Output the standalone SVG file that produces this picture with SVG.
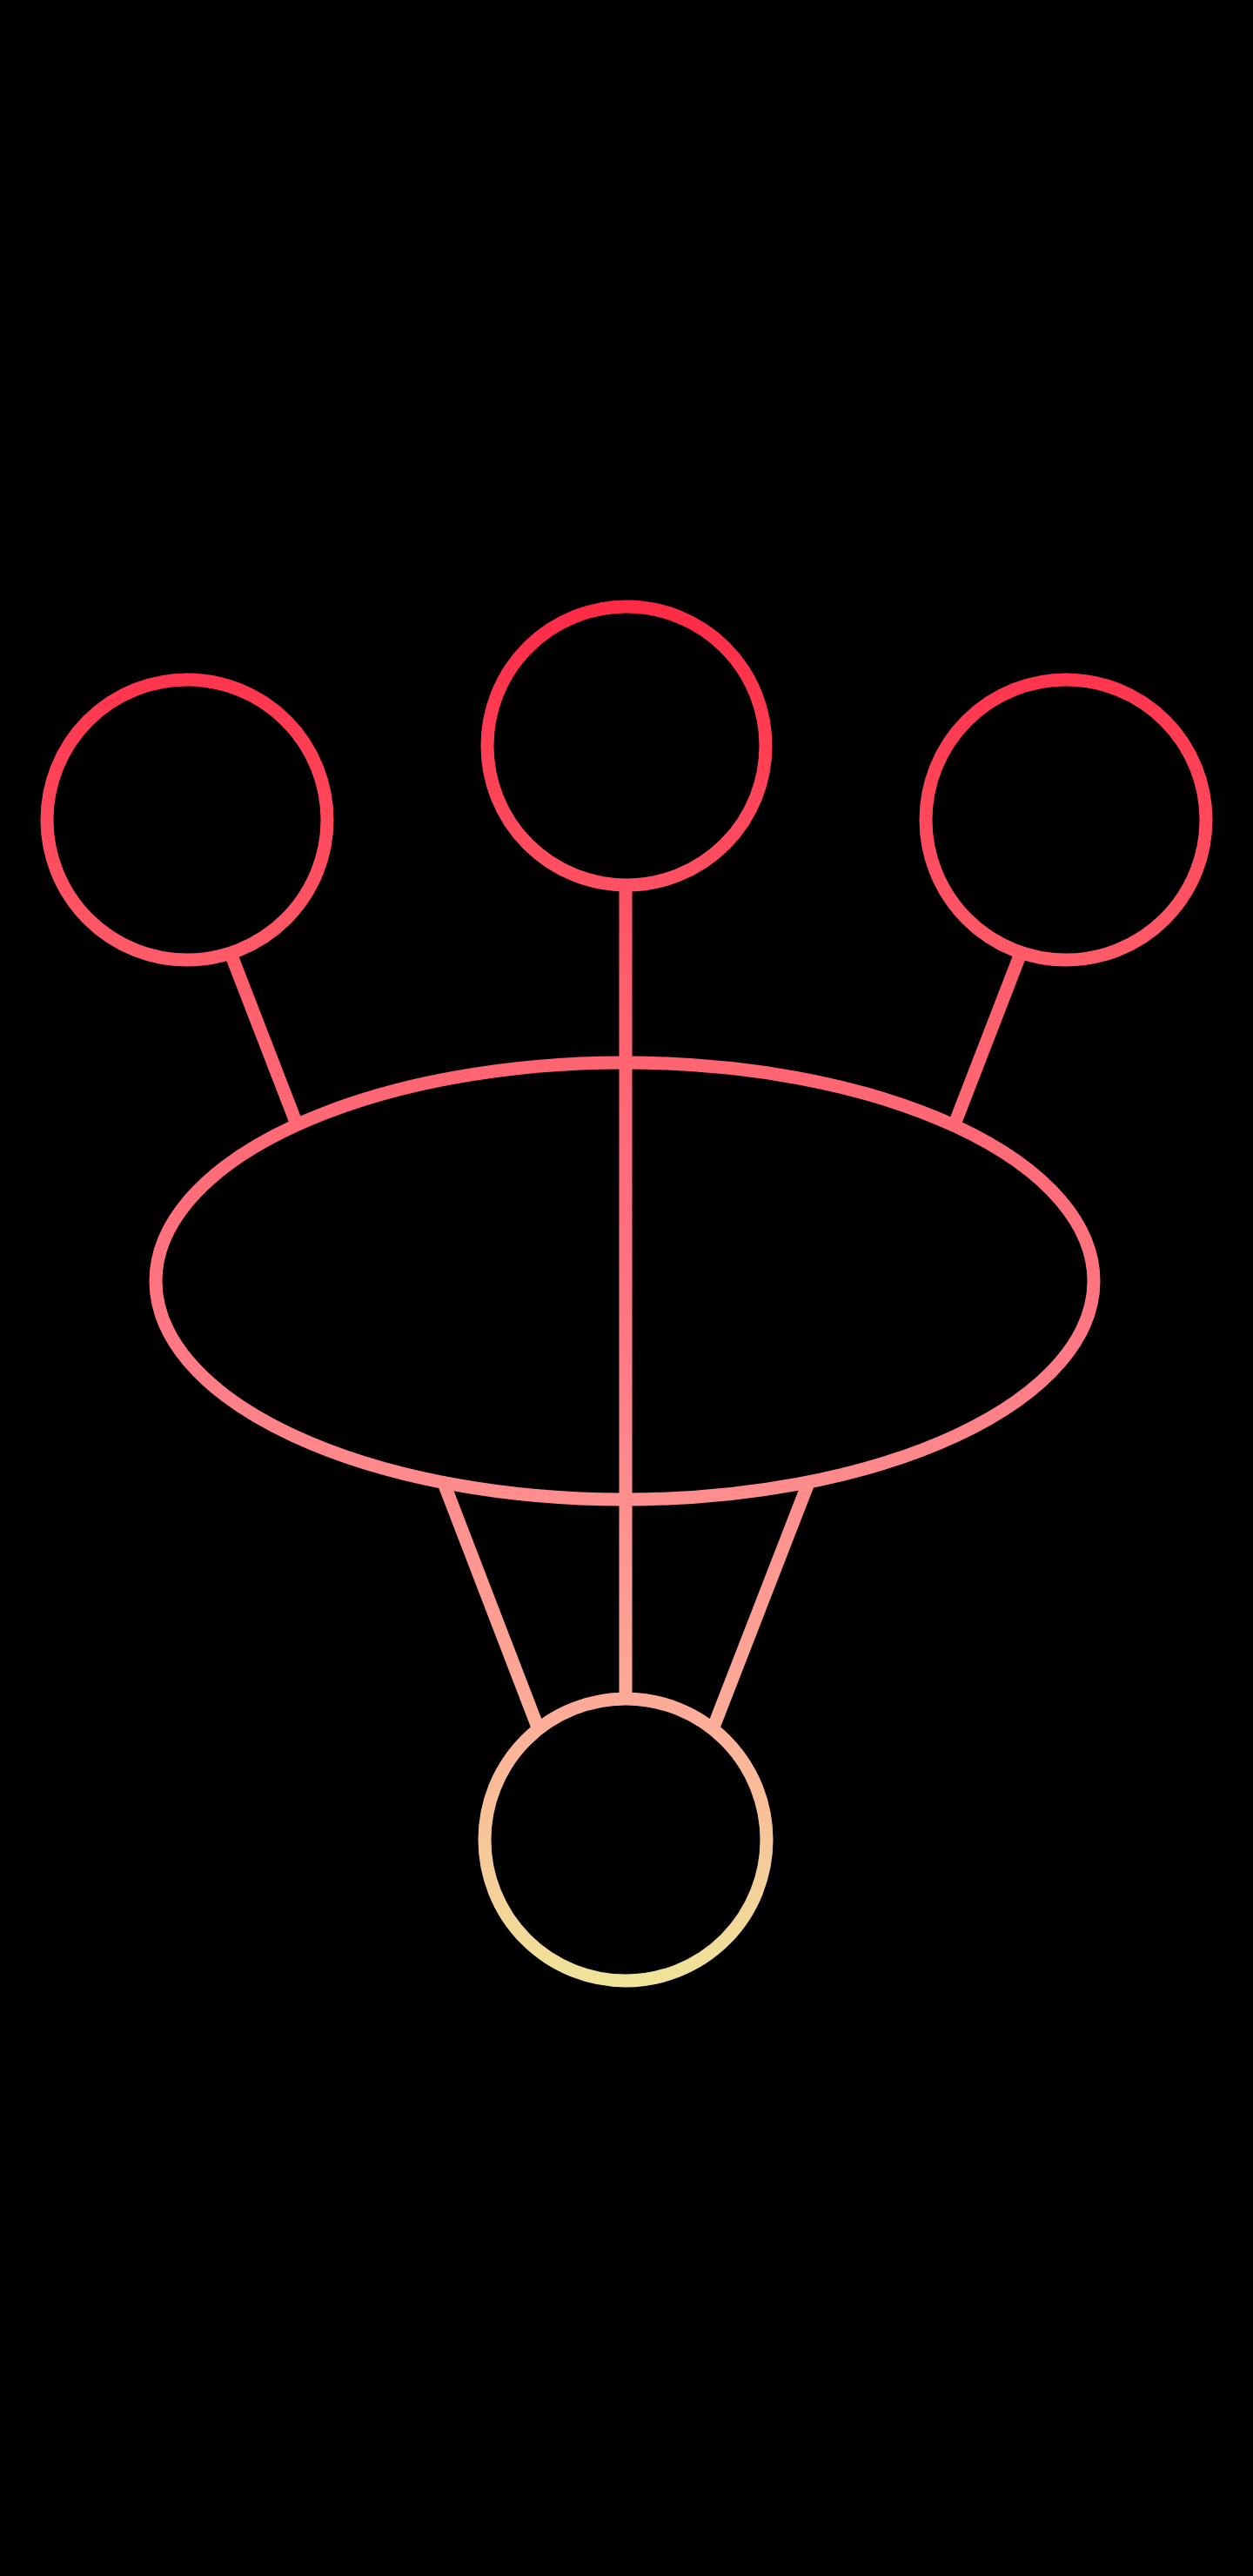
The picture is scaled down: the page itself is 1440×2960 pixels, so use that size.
<svg xmlns="http://www.w3.org/2000/svg" width="1440" height="2960" viewBox="0 0 1440 2960">
<defs>
<linearGradient id="g" gradientUnits="userSpaceOnUse" x1="0" y1="690" x2="0" y2="2280">
<stop offset="0" stop-color="#ff2a45"/>
<stop offset="0.28" stop-color="#ff5f6c"/>
<stop offset="0.55" stop-color="#ff7a86"/>
<stop offset="0.8" stop-color="#fdab98"/>
<stop offset="1" stop-color="#efe49a"/>
</linearGradient>
</defs>
<style>
.s{fill:none;stroke:url(#g);stroke-width:15}
</style>
<rect width="1440" height="2960" fill="#000"/>
<g id="connectors">
<line class="s" x1="719" y1="1016" x2="719" y2="1953"/>
<line class="s" x1="266" y1="1098" x2="343" y2="1297"/>
<line class="s" x1="1172" y1="1098" x2="1095" y2="1297"/>
<line class="s" x1="510" y1="1704" x2="617" y2="1982"/>
<line class="s" x1="929" y1="1704" x2="821" y2="1982"/>
</g>
<g id="node-top"><circle class="s" cx="720" cy="857" r="160"/></g>
<g id="node-left"><circle class="s" cx="215" cy="942" r="161"/></g>
<g id="node-right"><circle class="s" cx="1225" cy="942" r="161"/></g>
<g id="node-center"><ellipse class="s" cx="718" cy="1472" rx="539" ry="251"/></g>
<g id="node-bottom"><circle class="s" cx="719" cy="2114" r="162"/></g>
</svg>
